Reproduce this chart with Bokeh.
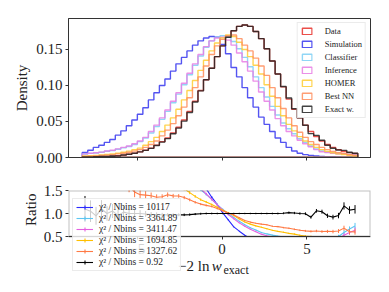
import numpy as np
from bokeh.plotting import figure
from bokeh.layouts import column
from bokeh.models import (Legend, LegendItem, FixedTicker, Label, ColumnDataSource,
                          Range1d, NumeralTickFormatter, BoxAnnotation, Title)
from bokeh.embed import file_html
from bokeh.resources import INLINE

# ---------------- data ----------------
bin_lo, bin_hi, n_bins = -8.24, 8.0, 50

data = [0.0006, 0.0008, 0.0010, 0.0013, 0.0016, 0.0019, 0.0024, 0.0033, 0.0045, 0.0060,
        0.0078, 0.0100, 0.0130, 0.0170, 0.0220, 0.0270, 0.0340, 0.0420, 0.0520, 0.0640,
        0.0780, 0.0930, 0.1080, 0.1240, 0.1400, 0.1550, 0.1670, 0.1760, 0.1820, 0.1840,
        0.1820, 0.1750, 0.1650, 0.1510, 0.1340, 0.1160, 0.0980, 0.0810, 0.0670, 0.0550,
        0.0450, 0.0360, 0.0290, 0.0230, 0.0180, 0.0140, 0.0110, 0.0085, 0.0068, 0.0055]

simulation = [0.0070, 0.0100, 0.0140, 0.0170, 0.0210, 0.0250, 0.0310, 0.0370, 0.0440, 0.0520,
              0.0600, 0.0690, 0.0800, 0.0900, 0.1000, 0.1090, 0.1200, 0.1300, 0.1390, 0.1480,
              0.1560, 0.1620, 0.1660, 0.1680, 0.1670, 0.1570, 0.1440, 0.1250, 0.1120, 0.0970,
              0.0830, 0.0700, 0.0560, 0.0460, 0.0360, 0.0270, 0.0210, 0.0140, 0.0090, 0.0060,
              0.0040, 0.0030, 0.0020, 0.0015, 0.0010, 0.0010, 0.0007, 0.0005, 0.0003, 0.0002]

classifier = [0.0048, 0.0057, 0.0062, 0.0072, 0.0086, 0.0096, 0.0115, 0.0134, 0.0153, 0.0180,
              0.0220, 0.0270, 0.0340, 0.0430, 0.0530, 0.0640, 0.0760, 0.0880, 0.1010, 0.1150,
              0.1280, 0.1410, 0.1530, 0.1620, 0.1670, 0.1690, 0.1670, 0.1610, 0.1510, 0.1390,
              0.1260, 0.1120, 0.0970, 0.0840, 0.0710, 0.0590, 0.0480, 0.0400, 0.0330, 0.0260,
              0.0210, 0.0160, 0.0120, 0.0090, 0.0075, 0.0065, 0.0055, 0.0050, 0.0045, 0.0040]

inference = [0.0050, 0.0060, 0.0065, 0.0075, 0.0090, 0.0100, 0.0120, 0.0140, 0.0160, 0.0190,
             0.0230, 0.0280, 0.0360, 0.0450, 0.0550, 0.0660, 0.0780, 0.0900, 0.1030, 0.1170,
             0.1300, 0.1430, 0.1540, 0.1620, 0.1660, 0.1670, 0.1630, 0.1560, 0.1450, 0.1330,
             0.1200, 0.1060, 0.0910, 0.0780, 0.0660, 0.0540, 0.0440, 0.0360, 0.0300, 0.0240,
             0.0190, 0.0150, 0.0110, 0.0080, 0.0070, 0.0060, 0.0050, 0.0045, 0.0040, 0.0035]

homer = [0.0020, 0.0025, 0.0030, 0.0036, 0.0043, 0.0050, 0.0060, 0.0073, 0.0088, 0.0107,
         0.0130, 0.0170, 0.0220, 0.0280, 0.0360, 0.0450, 0.0550, 0.0670, 0.0800, 0.0930,
         0.1070, 0.1210, 0.1350, 0.1480, 0.1590, 0.1660, 0.1700, 0.1680, 0.1600, 0.1500,
         0.1400, 0.1280, 0.1160, 0.1010, 0.0850, 0.0710, 0.0580, 0.0460, 0.0370, 0.0290,
         0.0230, 0.0180, 0.0140, 0.0110, 0.0085, 0.0065, 0.0050, 0.0040, 0.0030, 0.0025]

best_nn = [0.0015, 0.0018, 0.0022, 0.0027, 0.0033, 0.0040, 0.0050, 0.0060, 0.0072, 0.0088,
           0.0110, 0.0140, 0.0180, 0.0230, 0.0300, 0.0380, 0.0470, 0.0580, 0.0700, 0.0830,
           0.0970, 0.1120, 0.1270, 0.1430, 0.1550, 0.1640, 0.1690, 0.1700, 0.1650, 0.1560,
           0.1480, 0.1380, 0.1270, 0.1140, 0.0970, 0.0830, 0.0680, 0.0550, 0.0440, 0.0350,
           0.0280, 0.0220, 0.0180, 0.0140, 0.0110, 0.0085, 0.0068, 0.0058, 0.0041, 0.0033]

exact_w = [0.00066, 0.00084, 0.00095, 0.00143, 0.0016, 0.0020, 0.0023, 0.0034, 0.0045, 0.0060,
           0.0078, 0.0099, 0.0127, 0.0166, 0.0214, 0.0262, 0.0330, 0.0408, 0.0505, 0.0625,
           0.0770, 0.0925, 0.1080, 0.1240, 0.1400, 0.1550, 0.1670, 0.1760, 0.1820, 0.1840,
           0.1820, 0.1750, 0.1650, 0.1510, 0.1340, 0.1160, 0.0985, 0.0826, 0.0677, 0.0550,
           0.0448, 0.0331, 0.0307, 0.0239, 0.0171, 0.0129, 0.0105, 0.0099, 0.0073, 0.0060]

hist_labels = ["Data", "Simulation", "Classifier", "Inference", "HOMER", "Best NN", "Exact w."]
hist_colors = ["#e8302a", "#3636ee", "#7ccff5", "#e77de4", "#ffcc33", "#ff8d5c", "#222222"]

ratio_names = ["Simulation", "Classifier", "Inference", "HOMER", "Best NN", "Exact w."]
ratio_colors = ["#2a2aff", "#5cc6f2", "#e45fe0", "#ffbf00", "#ff7a45", "#000000"]
chi2_values = ["10117", "3364.89", "3411.47", "1694.85", "1327.62", "0.92"]

x_ticks = [-5, 0, 5]
density_ticks = [0, 0.05, 0.10, 0.15]
ratio_ticks = [0.5, 1.0, 1.5]

N_EVENTS = 150000

FONT = "Liberation Serif"
INK = "#222222"

edges = np.linspace(bin_lo, bin_hi, n_bins + 1)
centers = 0.5 * (edges[:-1] + edges[1:])
width = edges[1] - edges[0]


def step_xy(vals):
    xs, ys = [edges[0]], [0.0]
    for i, v in enumerate(vals):
        xs += [edges[i], edges[i + 1]]
        ys += [v, v]
    xs.append(edges[-1])
    ys.append(0.0)
    return xs, ys


def style(p):
    p.xgrid.visible = False
    p.ygrid.visible = False
    for ax in (p.xaxis[0], p.yaxis[0]):
        ax.major_tick_in = 0
        ax.major_tick_out = 3
        ax.minor_tick_line_color = None
        ax.axis_line_color = "#333333"
        ax.major_tick_line_color = "#333333"
        ax.major_label_text_font = FONT
        ax.major_label_text_font_size = "15px"
        ax.major_label_text_color = INK
        ax.axis_label_text_font = FONT
        ax.axis_label_text_font_size = "15px"
        ax.axis_label_text_font_style = "normal"
        ax.axis_label_text_color = INK
        ax.major_label_standoff = 3
        ax.axis_label_standoff = 3


x_lo, x_hi = -9.05, 8.75

# ---------------- top: histograms ----------------
p1 = figure(width=380, height=166, output_backend="svg", toolbar_location=None,
            x_range=Range1d(x_lo, x_hi), y_range=Range1d(0, 0.193),
            min_border_left=68, min_border_right=10, min_border_top=18, min_border_bottom=9)
style(p1)
p1.outline_line_color = "#333333"
p1.xaxis.ticker = FixedTicker(ticks=x_ticks)
p1.xaxis.major_label_overrides = {t: "" for t in x_ticks}
p1.xaxis.major_label_standoff = 0
p1.yaxis.ticker = FixedTicker(ticks=density_ticks)
p1.yaxis.formatter = NumeralTickFormatter(format="0.00")
p1.yaxis.axis_label = "Density"

hist_series = [data, simulation, classifier, inference, homer, best_nn, exact_w]
items1 = []
for lab, col, vals in zip(hist_labels, hist_colors, hist_series):
    xs, ys = step_xy(vals)
    r = p1.patch(xs, ys, fill_color=None, line_color=col, line_width=1.4, line_alpha=0.85)
    items1.append(LegendItem(label=lab, renderers=[r]))

leg1 = Legend(items=items1, location="top_right", margin=4, padding=3, spacing=3,
              glyph_width=12, glyph_height=8, label_height=8, label_standoff=12,
              label_text_font=FONT, label_text_font_size="8.5px",
              label_text_color=INK, border_line_color="#d8d8d8",
              background_fill_alpha=0.85)
p1.add_layout(leg1)

# ---------------- bottom: ratio ----------------
# the frame continues below the ratio band, so that the legend may overhang it
ratio_top = 1.5
ratio_bottom = 0.5
frame_px = 98          # plotting-frame height in pixels (band of 46 px + room below)
band_px = 46
p2 = figure(width=380, height=126, output_backend="svg", toolbar_location=None,
            x_range=p1.x_range,
            y_range=Range1d(ratio_top - (ratio_top - ratio_bottom) * frame_px / band_px, ratio_top),
            min_border_left=68, min_border_right=10, min_border_top=24, min_border_bottom=4)
style(p2)
p2.outline_line_color = None
p2.xaxis.ticker = FixedTicker(ticks=x_ticks)
p2.xaxis.fixed_location = ratio_bottom
p2.xaxis.major_label_standoff = 4
p2.yaxis.ticker = FixedTicker(ticks=ratio_ticks)
p2.yaxis.formatter = NumeralTickFormatter(format="0.0")
p2.yaxis.axis_line_color = None

data_arr = np.array(data)
n_data = data_arr * width * N_EVENTS
ratio_series = [simulation, classifier, inference, homer, best_nn, exact_w]
items2 = []
for name, col, vals, chi in zip(ratio_names, ratio_colors, ratio_series, chi2_values):
    m = np.array(vals)
    ratio = m / data_arr
    n_model = m * width * N_EVENTS
    err = ratio * np.sqrt(1.0 / n_model + 1.0 / n_data)
    src = ColumnDataSource(dict(x=centers, r=ratio, lo=ratio - err, hi=ratio + err,
                                s=np.zeros_like(ratio)))
    rl = p2.line("x", "r", source=src, line_color=col, line_width=1.1)
    p2.segment(x0="x", y0="lo", x1="x", y1="hi", source=src, line_color=col, line_width=1.0)
    rm = p2.scatter("x", "r", source=src, size="s", marker="cross", line_color=col,
                    line_width=1.1)
    items2.append(LegendItem(label=f"χ² / Nbins = {chi}", renderers=[rl, rm]))

# white band hides what runs below the ratio band (drawn right after the glyphs)
mask = BoxAnnotation(top=ratio_bottom, fill_color="white", fill_alpha=1.0,
                     line_color=None, level="glyph")
p2.add_layout(mask)
frame_box = BoxAnnotation(top=ratio_top, bottom=ratio_bottom, fill_color=None,
                          line_color="#333333", line_width=2)
p2.add_layout(frame_box)

p2.add_layout(Title(text="Ratio", align="right", offset=3, text_font=FONT,
                    text_font_size="15px", text_font_style="normal", text_color=INK,
                    standoff=4), "left")

leg2 = Legend(items=items2, location=(4, 17), margin=0, padding=3, spacing=1,
              glyph_width=17, glyph_height=10, label_height=10, label_standoff=6,
              label_text_font=FONT, label_text_font_size="9.5px",
              label_text_color=INK, border_line_color="#d8d8d8",
              background_fill_alpha=0.8)

# x-axis title built from text pieces (-2 ln w_exact)
p2.add_layout(Label(x=-0.74, y=-0.141, text="−2 ln", text_align="right",
                    text_baseline="alphabetic", text_font=FONT, text_font_size="15px",
                    text_color=INK))
p2.add_layout(Label(x=-0.60, y=-0.141, text="w", text_align="left",
                    text_baseline="alphabetic", text_font=FONT, text_font_size="15px",
                    text_font_style="italic", text_color=INK))
p2.add_layout(Label(x=0.08, y=-0.239, text="exact", text_align="left",
                    text_baseline="alphabetic", text_font=FONT, text_font_size="12px",
                    text_color=INK))
p2.add_layout(leg2)

layout = column(p1, p2)
open("out.html", "w").write(file_html(layout, INLINE))
